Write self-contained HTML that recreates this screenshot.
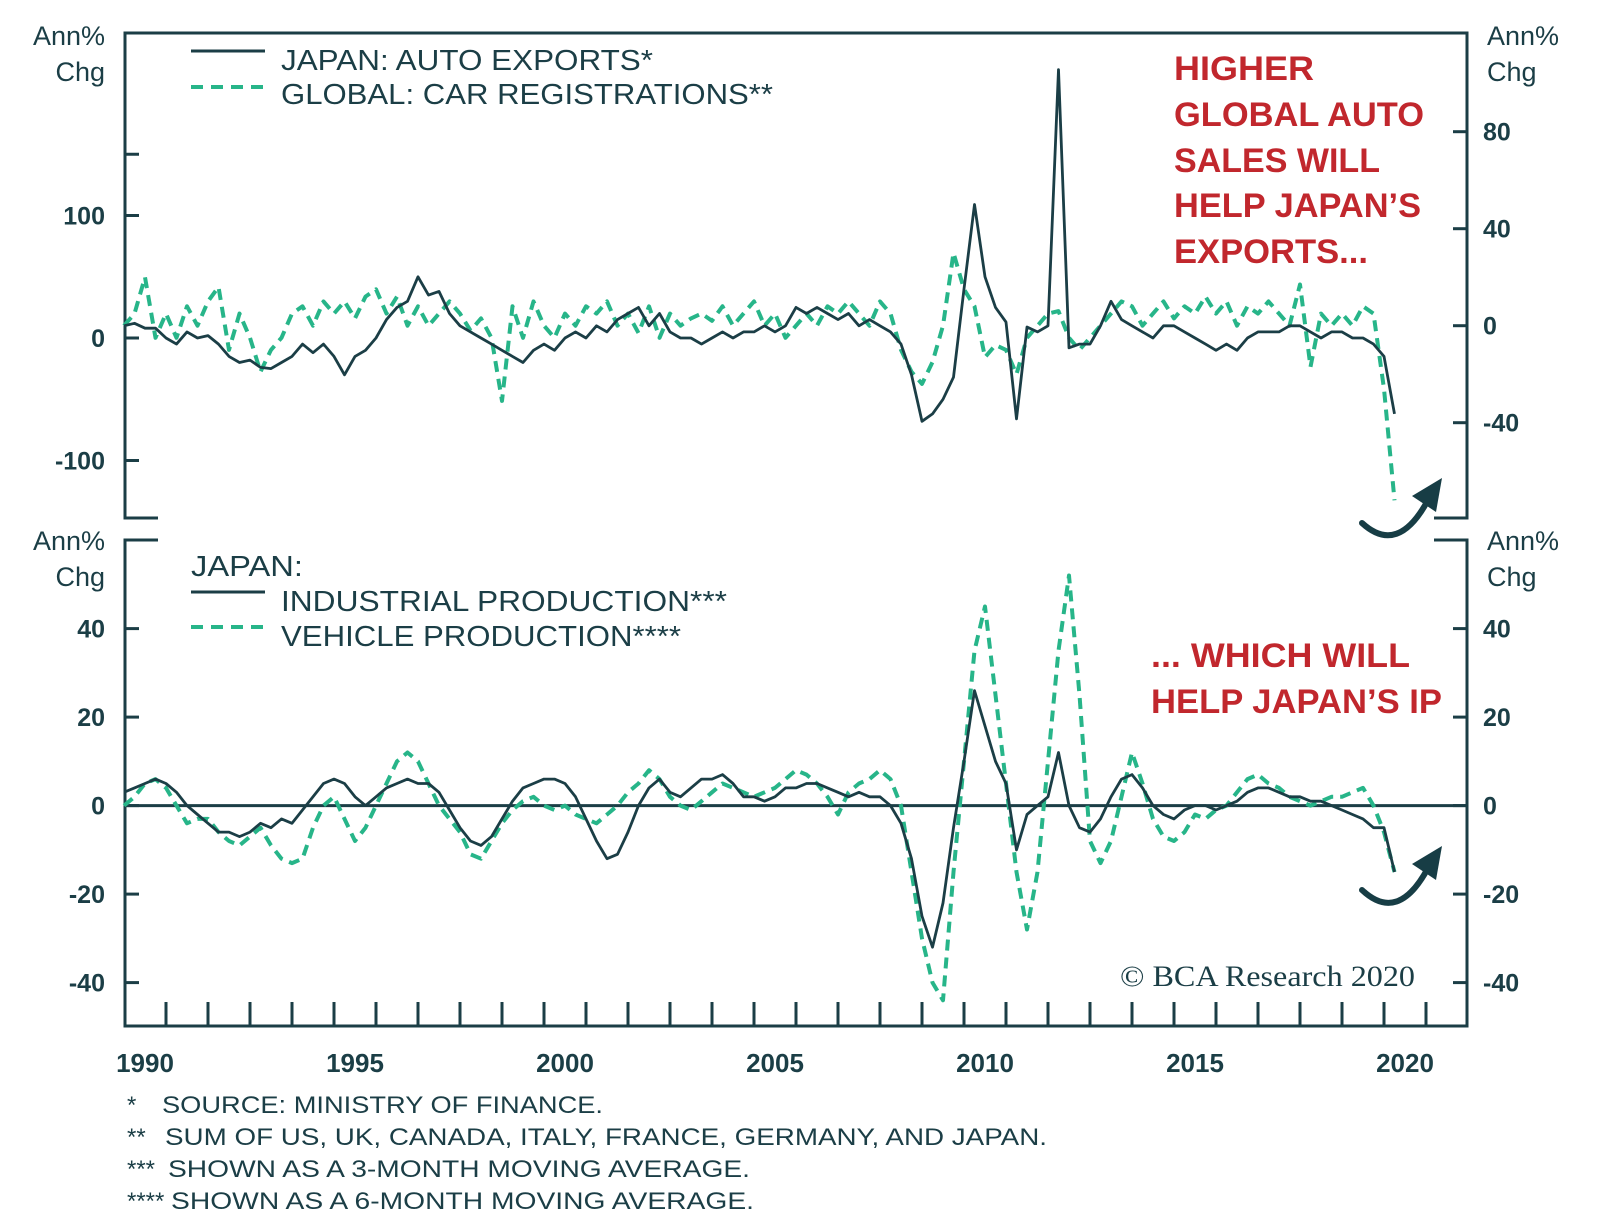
<!DOCTYPE html>
<html><head><meta charset="utf-8">
<style>
html,body{margin:0;padding:0;background:#fff;}
svg{display:block;font-family:"Liberation Sans",sans-serif;}
</style></head>
<body>
<svg id="chart" width="1600" height="1228" viewBox="0 0 1600 1228" xmlns="http://www.w3.org/2000/svg">
<g id="frame" stroke="#1b3e46" stroke-width="3" fill="none">
  <path d="M158,518 L125,518 L125,33 L1467,33 L1467,518 L1434,518"/>
  <path d="M158,540 L125,540 L125,1026 L1467,1026 L1467,540 L1434,540"/>
</g>
<g id="axes"></g>
<g id="series"></g>
<g id="texts" fill="#1b3e46">
  <text x="105" y="45" font-size="27" text-anchor="end">Ann%</text>
  <text x="105" y="81" font-size="27" text-anchor="end">Chg</text>
  <text x="1487" y="45" font-size="27">Ann%</text>
  <text x="1487" y="81" font-size="27">Chg</text>
  <text x="105" y="550" font-size="27" text-anchor="end">Ann%</text>
  <text x="105" y="586" font-size="27" text-anchor="end">Chg</text>
  <text x="1487" y="550" font-size="27">Ann%</text>
  <text x="1487" y="586" font-size="27">Chg</text>

  <line x1="191" y1="51" x2="265" y2="51" stroke="#1b3e46" stroke-width="3"/>
  <text x="281" y="70" font-size="29" textLength="372" lengthAdjust="spacingAndGlyphs">JAPAN: AUTO EXPORTS*</text>
  <line x1="191" y1="87" x2="265" y2="87" stroke="#27b589" stroke-width="4" stroke-dasharray="12,8"/>
  <text x="281" y="104" font-size="29" textLength="492" lengthAdjust="spacingAndGlyphs">GLOBAL: CAR REGISTRATIONS**</text>

  <text x="191" y="576" font-size="29" textLength="112" lengthAdjust="spacingAndGlyphs">JAPAN:</text>
  <line x1="191" y1="592" x2="265" y2="592" stroke="#1b3e46" stroke-width="3"/>
  <text x="281" y="611" font-size="29" textLength="446" lengthAdjust="spacingAndGlyphs">INDUSTRIAL PRODUCTION***</text>
  <line x1="191" y1="627" x2="265" y2="627" stroke="#27b589" stroke-width="4" stroke-dasharray="12,8"/>
  <text x="281" y="646" font-size="29" textLength="400" lengthAdjust="spacingAndGlyphs">VEHICLE PRODUCTION****</text>

  <g fill="#c1272d" font-size="34" font-weight="bold">
    <text x="1174" y="80" textLength="140" lengthAdjust="spacingAndGlyphs">HIGHER</text>
    <text x="1174" y="126" textLength="250" lengthAdjust="spacingAndGlyphs">GLOBAL AUTO</text>
    <text x="1174" y="172" textLength="206" lengthAdjust="spacingAndGlyphs">SALES WILL</text>
    <text x="1174" y="217" textLength="247" lengthAdjust="spacingAndGlyphs">HELP JAPAN’S</text>
    <text x="1174" y="263" textLength="194" lengthAdjust="spacingAndGlyphs">EXPORTS...</text>
  </g>
  <g fill="#c1272d" font-size="34" font-weight="bold">
    <text x="1151" y="667" textLength="259" lengthAdjust="spacingAndGlyphs">... WHICH WILL</text>
    <text x="1151" y="713" textLength="291" lengthAdjust="spacingAndGlyphs">HELP JAPAN’S IP</text>
  </g>
  <text x="1120" y="986" font-family="'Liberation Serif',serif" font-size="30" textLength="295" lengthAdjust="spacingAndGlyphs">© BCA Research 2020</text>

  <g font-size="24">
    <text x="127" y="1113">*</text>
    <text x="162" y="1113" textLength="441" lengthAdjust="spacingAndGlyphs">SOURCE: MINISTRY OF FINANCE.</text>
    <text x="127" y="1145">**</text>
    <text x="165" y="1145" textLength="882" lengthAdjust="spacingAndGlyphs">SUM OF US, UK, CANADA, ITALY, FRANCE, GERMANY, AND JAPAN.</text>
    <text x="127" y="1177">***</text>
    <text x="168" y="1177" textLength="582" lengthAdjust="spacingAndGlyphs">SHOWN AS A 3-MONTH MOVING AVERAGE.</text>
    <text x="127" y="1209">****</text>
    <text x="171" y="1209" textLength="583" lengthAdjust="spacingAndGlyphs">SHOWN AS A 6-MONTH MOVING AVERAGE.</text>
  </g>

  <g>
    <path d="M1362,523 Q1398,556 1428,500" stroke="#173d45" stroke-width="6" fill="none" stroke-linecap="round"/>
    <path d="M1442,478 L1412,496 L1436,512 Z" fill="#173d45"/>
  </g>
  <g>
    <path d="M1362,890 Q1398,924 1428,868" stroke="#173d45" stroke-width="6" fill="none" stroke-linecap="round"/>
    <path d="M1442,846 L1412,864 L1436,880 Z" fill="#173d45"/>
  </g>
</g>
</svg>
<script>
// ---- data (quarterly, starting 1990 Q1) ----
const startYear = 1990;
const xTickYears = [1990, 1995, 2000, 2005, 2010, 2015, 2020];
const topLeftTicks = [100, 0, -100];
const topLeftMinorTicks = [150];
const topRightTicks = [80, 40, 0, -40];
const bottomTicks = [40, 20, 0, -20, -40];
const autoExports = [
10,12,8,8, 0,-5,5,0, 2,-5,-15,-20, -18,-24,-25,-20, -15,-5,-12,-5,
-15,-30,-15,-10, 0,15,25,30, 50,35,38,20, 10,5,0,-5, -10,-15,-20,-10,
-5,-10,0,5, 0,10,5,15, 20,25,10,20, 5,0,0,-5, 0,5,0,5,
5,10,5,10, 25,20,25,20, 15,20,10,15, 10,5,-5,-30, -68,-62,-50,-32,
40,109,50,25, 13,-66,9,5, 10,219,-8,-5, -5,10,30,15, 10,5,0,10,
10,5,0,-5, -10,-5,-10,0, 5,5,5,10, 10,5,0,5, 5,0,0,-5, -15,-62];
const carRegistrations = [
0,5,20,-5, 5,-5,8,0, 10,16,-10,5, -5,-19,-10,-5, 5,8,0,10,
5,10,3,12, 15,5,12,0, 8,0,5,10, 5,-2,3,-5, -31,8,-5,10,
0,-5,5,0, 8,5,10,0, 5,-3,8,-5, 5,0,3,5, 2,8,0,5,
10,0,5,-5, 0,5,0,8, 5,10,5,0, 10,5,-10,-19, -24,-15,0,30,
15,8,-13,-8, -10,-20,-5,0, 5,6,-5,-10, -5,0,5,10, 8,0,5,10,
3,8,5,12, 5,10,0,8, 5,10,5,0, 17,-17,5,0, 5,0,8,5, -26,-72];
const industrialProduction = [
3,4,5,6, 5,3,0,-2, -4,-6,-6,-7, -6,-4,-5,-3, -4,-1,2,5,
6,5,2,0, 2,4,5,6, 5,5,3,-1, -5,-8,-9,-7, -3,1,4,5,
6,6,5,2, -3,-8,-12,-11, -6,0,4,6, 3,2,4,6, 6,7,5,2,
2,1,2,4, 4,5,5,4, 3,2,3,2, 2,0,-4,-12, -25,-32,-22,-5,
10,26,18,10, 5,-10,-2,0, 2,12,0,-5, -6,-3,2,6, 7,4,0,-2,
-3,-1,0,0, -1,0,1,3, 4,4,3,2, 2,1,1,0, -1,-2,-3,-5, -5,-15];
const vehicleProduction = [
0,2,5,6, 4,0,-4,-3, -3,-6,-8,-9, -7,-5,-9,-12, -13,-12,-5,0,
2,-3,-8,-5, 0,5,10,12, 10,5,0,-3, -6,-11,-12,-8, -4,-1,1,2,
0,-1,0,-2, -3,-4,-2,0, 3,5,8,6, 2,0,-1,1, 3,5,4,3,
2,3,4,6, 8,7,5,2, -2,3,5,6, 8,6,0,-15, -30,-40,-44,-15,
10,35,45,25, 5,-15,-28,-15, 10,35,52,25, -8,-13,-8,2, 12,5,-3,-7,
-8,-6,-2,-3, -1,0,3,6, 7,5,4,2, 1,0,1,2, 2,3,4,0, -6,-15];

// ---- scales ----
const X0 = 124, PX_PER_YEAR = 42;
function xYear(t){ return X0 + PX_PER_YEAR*(t - startYear); }
function xIdx(i){ return xYear(startYear + i/4); }
function yTopLeft(v){ return 338 - 1.225*v; }
function yTopRight(v){ return 325.7 - 2.425*v; }
function yBottom(v){ return 805.6 - 4.425*v; }

const NS = "http://www.w3.org/2000/svg";
const axes = document.getElementById('axes');
const series = document.getElementById('series');
const INK = "#1b3e46", GREEN = "#27b589";

function mk(tag, attrs, parent){
  const el = document.createElementNS(NS, tag);
  for (const k in attrs) el.setAttribute(k, attrs[k]);
  parent.appendChild(el);
  return el;
}

for (let k = 1; k <= 31; k++){
  const x = xYear(startYear + k);
  const t = mk('line', {x1:x, y1:1026, x2:x, y2:1002, stroke:INK, 'stroke-width':3}, axes);
  
  
}
xTickYears.forEach(function(yr){
  const t = mk('text', {x:xYear(yr+0.5), y:1072, 'text-anchor':'middle', 'font-size':26, 'font-weight':'bold', fill:INK}, axes);
  t.textContent = yr;
  
  
});

function yTick(y, side, label){
  const x1 = side === 'l' ? 125 : 1467;
  const x2 = side === 'l' ? 139 : 1453;
  const ln = mk('line', {x1:x1, y1:y, x2:x2, y2:y, stroke:INK, 'stroke-width':3}, axes);
  
  
  if (label !== null){
    const t = mk('text', {x: side==='l'?105:1483, y:y+9, 'text-anchor': side==='l'?'end':'start', 'font-size':25, 'font-weight':'bold', fill:INK}, axes);
    t.textContent = label;
    
    
  }
}
topLeftTicks.forEach(v => yTick(yTopLeft(v), 'l', String(v)));
topLeftMinorTicks.forEach(v => yTick(yTopLeft(v), 'l', null));
topRightTicks.forEach(v => yTick(yTopRight(v), 'r', String(v)));
bottomTicks.forEach(v => { yTick(yBottom(v), 'l', String(v)); yTick(yBottom(v), 'r', String(v)); });

const zero = mk('line', {x1:125, y1:yBottom(0), x2:1467, y2:yBottom(0), stroke:INK, 'stroke-width':3}, axes);



function line(arr, yf, color, dashed, name){
  const d = arr.map((v,i) => (i?'L':'M') + xIdx(i).toFixed(1) + ',' + yf(v).toFixed(1)).join(' ');
  const p = mk('path', {d:d, fill:'none', stroke:color, 'stroke-width': dashed?4:2.8, 'stroke-linejoin':'round'}, series);
  if (dashed) p.setAttribute('stroke-dasharray', '11,7');
  
  
}
line(carRegistrations, yTopRight, GREEN, true, 'car-registrations-line');
line(autoExports, yTopLeft, INK, false, 'auto-exports-line');
line(vehicleProduction, yBottom, GREEN, true, 'vehicle-production-line');
line(industrialProduction, yBottom, INK, false, 'industrial-production-line');
</script>
</body></html>
